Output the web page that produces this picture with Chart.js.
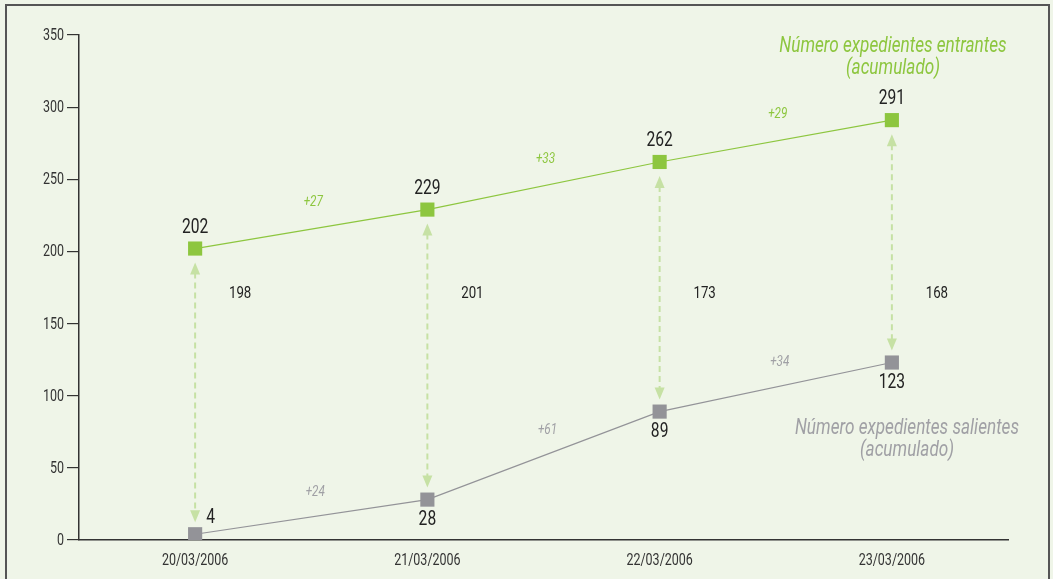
<!DOCTYPE html>
<html>
<head>
<meta charset="utf-8">
<script src="https://cdn.jsdelivr.net/npm/chart.js@4"></script>
<style>
  html, body { margin: 0; padding: 0; background: #eff5e8; }
  #wrap { position: relative; width: 1053px; height: 579px; }
</style>
</head>
<body>
<div id="wrap"><canvas id="grafica" width="1053" height="579"></canvas></div>
<script>
const labels = ['20/03/2006', '21/03/2006', '22/03/2006', '23/03/2006'];
const entrantes = [202, 229, 262, 291];
const salientes = [4, 28, 89, 123];
const diferencia = [198, 201, 173, 168];
const incEntrantes = ['+27', '+33', '+29'];
const incSalientes = ['+24', '+61', '+34'];
const yTicks = [0, 50, 100, 150, 200, 250, 300, 350];

const FONT = "Roboto, 'Liberation Sans', sans-serif";
const NARROW = 0.78; // el original usa una letra condensada
const green = '#8dc63f';
const grey = '#939398';
const arrowColor = '#c6e1a4';

// texto condensado: se escala en horizontal
function texto(c, t, x, y, font, color, align) {
  c.save();
  c.translate(x, y);
  c.scale(NARROW, 1);
  c.font = font;
  c.fillStyle = color;
  c.textAlign = align || 'center';
  c.textBaseline = 'middle';
  c.fillText(t, 0, 0);
  c.restore();
}

const fondo = {
  id: 'fondo',
  beforeDraw(chart) {
    const c = chart.ctx;
    c.save();
    c.fillStyle = '#eff5e8';
    c.fillRect(0, 0, chart.width, chart.height);
    c.strokeStyle = '#555';
    c.lineWidth = 2;
    c.beginPath();
    c.moveTo(6, 600);
    c.lineTo(6, 5);
    c.lineTo(1049, 5);
    c.lineTo(1049, 600);
    c.stroke();
    c.restore();
  }
};

const flechas = {
  id: 'flechas',
  beforeDatasetsDraw(chart) {
    const c = chart.ctx;
    const x = chart.scales.x, y = chart.scales.y;
    c.save();
    c.strokeStyle = arrowColor;
    c.fillStyle = arrowColor;
    c.lineWidth = 2;
    entrantes.forEach((v, i) => {
      const px = x.getPixelForValue(i);
      const top = y.getPixelForValue(v) + 14;
      const bot = y.getPixelForValue(salientes[i]) - 12;
      c.setLineDash([6, 4]);
      c.beginPath();
      c.moveTo(px, top + 10);
      c.lineTo(px, bot - 10);
      c.stroke();
      c.setLineDash([]);
      c.beginPath();
      c.moveTo(px, top);
      c.lineTo(px - 5, top + 12);
      c.lineTo(px + 5, top + 12);
      c.closePath();
      c.fill();
      c.beginPath();
      c.moveTo(px, bot);
      c.lineTo(px - 5, bot - 12);
      c.lineTo(px + 5, bot - 12);
      c.closePath();
      c.fill();
    });
    c.restore();
  }
};

const textos = {
  id: 'textos',
  afterDatasetsDraw(chart) {
    const c = chart.ctx;
    const x = chart.scales.x, y = chart.scales.y;
    const area = chart.chartArea;

    // etiquetas de los ejes
    y.ticks.forEach((t, i) => {
      texto(c, String(t.value), x.left - 15, y.getPixelForTick(i) + 1, '16px ' + FONT, '#333', 'right');
    });
    x.ticks.forEach((t, i) => {
      texto(c, x.getLabelForValue(t.value), x.getPixelForTick(i), area.bottom + 21, '16px ' + FONT, '#333');
    });

    // valores
    const fv = '20px ' + FONT;
    entrantes.forEach((v, i) => {
      texto(c, String(v), x.getPixelForValue(i), y.getPixelForValue(v) - 21, fv, '#222');
    });
    salientes.forEach((v, i) => {
      if (i === 0) {
        texto(c, String(v), x.getPixelForValue(i) + 11, y.getPixelForValue(v) - 16, fv, '#222', 'left');
      } else {
        texto(c, String(v), x.getPixelForValue(i), y.getPixelForValue(v) + 20, fv, '#222');
      }
    });

    // diferencias
    diferencia.forEach((v, i) => {
      texto(c, String(v), x.getPixelForValue(i) + 45, y.getPixelForValue(171), '17px ' + FONT, '#222');
    });

    // incrementos
    const fi = 'italic 15px ' + FONT;
    incEntrantes.forEach((t, i) => {
      const mx = (x.getPixelForValue(i) + x.getPixelForValue(i + 1)) / 2;
      const my = (y.getPixelForValue(entrantes[i]) + y.getPixelForValue(entrantes[i + 1])) / 2;
      texto(c, t, mx + 2, my - 27, fi, green);
    });
    incSalientes.forEach((t, i) => {
      const mx = (x.getPixelForValue(i) + x.getPixelForValue(i + 1)) / 2;
      const my = (y.getPixelForValue(salientes[i]) + y.getPixelForValue(salientes[i + 1])) / 2;
      texto(c, t, mx + 4, my - 25, fi, '#a0a0a5');
    });

    // titulos de serie
    const ft = 'italic 22px ' + FONT;
    texto(c, 'Número expedientes entrantes', 893, 46, ft, green);
    texto(c, '(acumulado)', 893, 68, ft, green);
    texto(c, 'Número expedientes salientes', 907, 428, ft, '#a0a0a5');
    texto(c, '(acumulado)', 907, 450, ft, '#a0a0a5');
  }
};

new Chart(document.getElementById('grafica'), {
  type: 'line',
  data: {
    labels: labels,
    datasets: [{
      data: entrantes,
      borderColor: green,
      borderWidth: 1.2,
      backgroundColor: green,
      pointStyle: 'rect',
      pointRadius: 10,
      pointBorderWidth: 0
    }, {
      data: salientes,
      borderColor: grey,
      borderWidth: 1.2,
      backgroundColor: grey,
      pointStyle: 'rect',
      pointRadius: 10,
      pointBorderWidth: 0
    }]
  },
  options: {
    responsive: false,
    animation: false,
    layout: { padding: { left: 0, top: 35, right: 45, bottom: 0 } },
    plugins: { legend: { display: false }, tooltip: { enabled: false } },
    scales: {
      x: {
        offset: true,
        afterFit(s) { s.height = 39; },
        grid: { display: false, drawTicks: false },
        border: { display: true, color: '#333', width: 1.5 },
        ticks: { color: 'rgba(0,0,0,0)', font: { family: FONT, size: 13 }, padding: 13, maxRotation: 0 }
      },
      y: {
        min: 0,
        max: 350,
        afterFit(s) { s.width = 79; },
        afterBuildTicks(s) { s.ticks = yTicks.map(v => ({ value: v })); },
        grid: { drawOnChartArea: false, drawTicks: true, tickLength: 12, color: '#333', lineWidth: 1.2 },
        border: { display: true, color: '#333', width: 1.5 },
        ticks: { color: 'rgba(0,0,0,0)', font: { family: FONT, size: 13 }, padding: 2 }
      }
    }
  },
  plugins: [fondo, flechas, textos]
});
</script>
</body>
</html>
